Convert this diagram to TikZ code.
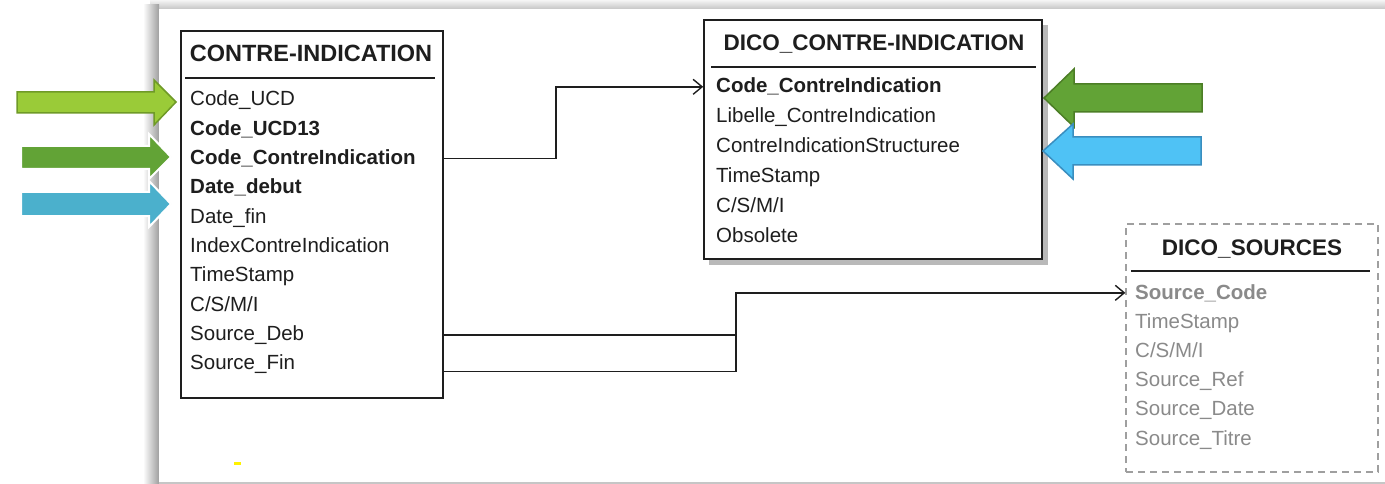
\documentclass[tikz,border=0pt]{standalone}
\usepackage{fontspec}
\setmainfont{Liberation Sans}
\usetikzlibrary{arrows.meta}
\definecolor{lgreen}{HTML}{9ACB38}
\definecolor{lgreenB}{HTML}{6F9A27}
\definecolor{dgreen}{HTML}{62A336}
\definecolor{dgreenB}{HTML}{4C7E26}
\definecolor{tblue}{HTML}{4BB0CC}
\definecolor{sblue}{HTML}{4FC2F5}
\definecolor{sblueB}{HTML}{3A8EBF}
\definecolor{srcgray}{HTML}{8A8A8A}
\definecolor{txt}{HTML}{1E1E1E}
\begin{document}
\begin{tikzpicture}[x=1pt,y=-1pt,
  tbl/.style={draw=txt, line width=1.6pt, fill=white, inner sep=0pt},
  hd/.style={font=\fontsize{22.5}{26}\selectfont\bfseries, text=txt, inner sep=0pt, anchor=base},
  row/.style={font=\fontsize{20.5}{24}\selectfont, text=txt, inner sep=0pt, anchor=base west},
  brow/.style={row, font=\fontsize{20.5}{24}\selectfont\bfseries},
  srow/.style={row, text=srcgray},
  sbrow/.style={brow, text=srcgray},
  sep/.style={draw=txt, line width=1.4pt},
  conn/.style={draw=txt, line width=1.5pt},
  tip/.style={-{Straight Barb[length=9pt,width=15pt,line width=1.4pt]}},
  leftarrow/.style={draw=white, line width=2pt},
  rightarrow/.style={line width=1.5pt}
]
\useasboundingbox (0,0) rectangle (1385,484);
% panel with shadow
\fill[white] (0,0) rectangle (1385,484);
\shade[top color=gray!8, bottom color=gray!45] (150,0) rectangle (1385,9);
\shade[left color=white, right color=gray!75] (143,5) rectangle (159,484);
\fill[white] (159,9) rectangle (1385,482);
\fill[gray!45] (159,482) rectangle (1385,484);
\fill[yellow] (234,462) rectangle (241,465);

% CONTRE-INDICATION
\node[tbl, minimum width=262pt, minimum height=367pt] (ci) at (312,214.5) {};
\node[hd, font=\fontsize{23.5}{27}\selectfont\bfseries] (ciH) at (311,62) {CONTRE-INDICATION};
\draw[sep] (185,78) -- (435,78);
\node[row]  (ciR1)  at (190,106)   {Code\_UCD};
\node[brow] (ciR2)  at (190,135.3) {Code\_UCD13};
\node[brow] (ciR3)  at (190,164.6) {Code\_ContreIndication};
\node[brow] (ciR4)  at (190,193.9) {Date\_debut};
\node[row]  (ciR5)  at (190,223.2) {Date\_fin};
\node[row]  (ciR6)  at (190,252.5) {IndexContreIndication};
\node[row]  (ciR7)  at (190,281.8) {TimeStamp};
\node[row]  (ciR8)  at (190,311.1) {C/S/M/I};
\node[row]  (ciR9)  at (190,340.4) {Source\_Deb};
\node[row]  (ciR10) at (190,369.7) {Source\_Fin};

% DICO_CONTRE-INDICATION
\fill[gray!55] (709,25) rectangle (1048,265);
\node[tbl, minimum width=338pt, minimum height=239pt] (dci) at (873,139.5) {};
\node[hd] (dciH) at (874,51) {DICO\_CONTRE-INDICATION};
\draw[sep] (711,67) -- (1036,67);
\node[brow] (dR1) at (716,93)    {Code\_ContreIndication};
\node[row]  (dR2) at (716,122.8) {Libelle\_ContreIndication};
\node[row]  (dR3) at (716,152.6) {ContreIndicationStructuree};
\node[row]  (dR4) at (716,182.4) {TimeStamp};
\node[row]  (dR5) at (716,212.2) {C/S/M/I};
\node[row]  (dR6) at (716,242)   {Obsolete};

% DICO_SOURCES
\node[draw=gray!75, line width=1.3pt, dash pattern=on 7pt off 5pt, fill=white, inner sep=0pt,
      minimum width=252pt, minimum height=248pt] (src) at (1252,348) {};
\node[hd] (srcH) at (1252,255) {DICO\_SOURCES};
\draw[sep] (1131,271) -- (1370,271);
\node[sbrow] (sR1) at (1135,299)   {Source\_Code};
\node[srow]  (sR2) at (1135,328.2) {TimeStamp};
\node[srow]  (sR3) at (1135,357.4) {C/S/M/I};
\node[srow]  (sR4) at (1135,386.6) {Source\_Ref};
\node[srow]  (sR5) at (1135,415.8) {Source\_Date};
\node[srow]  (sR6) at (1135,445)   {Source\_Titre};

% connectors
\draw[conn,tip] (ciR3.center -| ci.east) -- ++(112,0) |- (dR1.center -| dci.west);
\coordinate (jn) at (736,0);
\coordinate (sf) at ([yshift=-7pt]ciR10.center);
\draw[conn,tip] (ciR9.center -| ci.east) -- (ciR9.center -| jn) |- (sR1.center -| src.west);
\draw[conn] (sf -| ci.east) -| (ciR9.center -| jn);

% block arrows
\draw[fill=lgreen, draw=lgreenB, line width=1.5pt]
  (17,92) -- (154,92) -- (154,80) -- (176,102) -- (154,125) -- (154,113) -- (17,113) -- cycle;
\draw[leftarrow, fill=dgreen]
  (21,146) -- (149,146) -- (149,134) -- (171,157) -- (149,179) -- (149,169) -- (21,169) -- cycle;
\draw[leftarrow, fill=tblue]
  (21,192) -- (149,192) -- (149,181) -- (171,204) -- (149,227) -- (149,216) -- (21,216) -- cycle;
\draw[rightarrow, fill=dgreen, draw=dgreenB]
  (1202,84) -- (1074,84) -- (1074,69) -- (1044,98) -- (1074,127) -- (1074,112) -- (1202,112) -- cycle;
\draw[rightarrow, fill=sblue, draw=sblueB]
  (1201,137) -- (1073,137) -- (1073,124) -- (1043,151) -- (1073,179) -- (1073,165) -- (1201,165) -- cycle;
\end{tikzpicture}
\end{document}
